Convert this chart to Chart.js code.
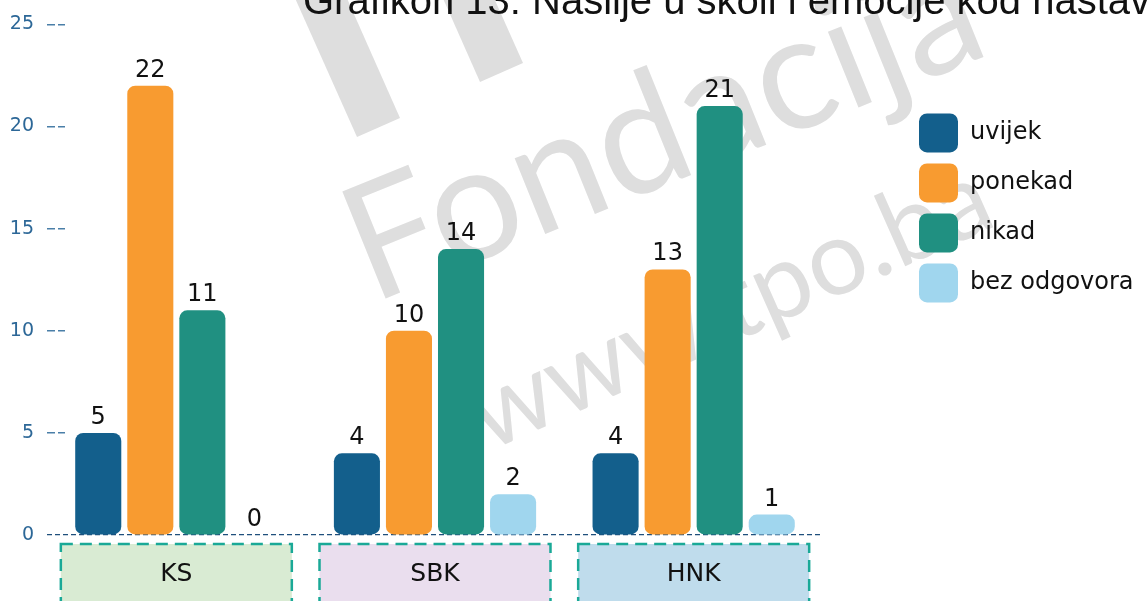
<!DOCTYPE html>
<html>
<head>
<meta charset="utf-8">
<script src="https://cdn.jsdelivr.net/npm/chart.js@4.4.0/dist/chart.umd.min.js"></script>
<style>
  html, body { margin: 0; padding: 0; background: #fff; overflow: hidden; }
  #wrap { position: relative; width: 1148px; height: 601px; }
</style>
</head>
<body>
<div id="wrap"><canvas id="grafikon"></canvas></div>
<script>
const kategorije = ['KS', 'SBK', 'HNK'];
const uvijek = [5, 4, 4];
const ponekad = [22, 10, 13];
const nikad = [11, 14, 21];
const bezOdgovora = [0, 2, 1];
const yTicks = [0, 5, 10, 15, 20, 25];
const naslov = 'Grafikon 13: Nasilje u školi i emocije kod nastavnika';
const boxBoje = ['#d9ebd3', '#eadeee', '#bfdcec'];

const FONT = 'DejaVu Sans';

// watermark (logo + tekst) iza grafikona
const vodeniZig = {
  id: 'vodeniZig',
  beforeDraw(chart) {
    const c = chart.ctx;
    c.save();
    c.fillStyle = '#dedede';
    [[[278, -40], [330, -40], [400, 118], [357, 137]],
     [[426, -40], [477, -40], [523, 63], [480, 82]]].forEach(p => {
      c.beginPath();
      c.moveTo(p[0][0], p[0][1]);
      p.slice(1).forEach(t => c.lineTo(t[0], t[1]));
      c.closePath();
      c.fill();
    });
    const tekst = (t, x, y, ang, w) => {
      c.save();
      c.translate(x, y);
      c.rotate(ang * Math.PI / 180);
      c.font = '100px Lato';
      const s = 100 * w / c.measureText(t).width;
      c.font = s + 'px Lato';
      c.fillText(t, 0, 0);
      c.restore();
    };
    tekst('Fondacija', 372, 304, -22, 670);
    tekst('www.tpo.ba', 488, 452, -24, 560);
    c.restore();
  }
};

// obojene kutije ispod kategorija
const kutije = {
  id: 'kutije',
  beforeDraw(chart) {
    const x = chart.scales.x, c = chart.ctx;
    const w = x.width / kategorije.length * 0.893;
    const top = x.top + 9;
    c.save();
    kategorije.forEach((k, i) => {
      const cx = x.getPixelForValue(i);
      c.fillStyle = boxBoje[i];
      c.fillRect(cx - w / 2, top, w, chart.height - top + 20);
      c.setLineDash([12, 7]);
      c.lineWidth = 2.5;
      c.strokeStyle = '#1aa997';
      c.strokeRect(cx - w / 2, top, w, chart.height - top + 20);
    });
    c.restore();
  }
};

// brojevi iznad stubaca
const oznake = {
  id: 'oznake',
  afterDatasetsDraw(chart) {
    const c = chart.ctx;
    c.save();
    c.font = '24px "' + FONT + '"';
    c.fillStyle = '#111';
    c.textAlign = 'center';
    c.textBaseline = 'alphabetic';
    chart.data.datasets.forEach((ds, i) => {
      chart.getDatasetMeta(i).data.forEach((bar, j) => {
        c.fillText(ds.data[j], bar.x, bar.y - 9);
      });
    });
    c.restore();
  }
};

const naslovPlugin = {
  id: 'naslovPlugin',
  afterDraw(chart) {
    const c = chart.ctx;
    c.save();
    c.font = '40px "Liberation Sans"';
    c.fillStyle = '#111';
    c.textBaseline = 'alphabetic';
    c.fillText(naslov, 303, 14);
    c.restore();
  }
};

// legenda smije biti sira od pola slobodnog prostora
const sirokaLegenda = {
  id: 'sirokaLegenda',
  beforeLayout(chart) {
    const lg = chart.legend;
    if (lg && !lg._sirok) {
      const fit = lg.fit;
      lg.fit = function () {
        this.maxWidth = Math.max(this.maxWidth, 400);
        fit.call(this);
        this.width = Math.max(this.width, 240);
      };
      lg._sirok = true;
    }
  }
};

new Chart(document.getElementById('grafikon'), {
  type: 'bar',
  data: {
    labels: kategorije,
    datasets: [
      { label: 'uvijek', data: uvijek, backgroundColor: '#135f8c' },
      { label: 'ponekad', data: ponekad, backgroundColor: '#f89b30' },
      { label: 'nikad', data: nikad, backgroundColor: '#209081' },
      { label: 'bez odgovora', data: bezOdgovora, backgroundColor: '#a0d6ee' }
    ]
  },
  options: {
    responsive: true,
    maintainAspectRatio: false,
    animation: false,
    layout: { padding: { top: 24, left: 11, right: 0, bottom: 0 } },
    datasets: {
      bar: { categoryPercentage: 0.805, barPercentage: 0.885, borderRadius: 8, borderSkipped: false }
    },
    plugins: {
      legend: {
        position: 'right',
        align: 'start',
        title: { display: true, text: ' ', font: { size: 12 }, padding: { top: 64, bottom: 0 } },
        labels: {
          boxWidth: 39, boxHeight: 39, padding: 11,
          useBorderRadius: true, borderRadius: 8,
          color: '#111', font: { family: FONT, size: 24 }
        }
      },
      tooltip: { enabled: false }
    },
    scales: {
      x: {
        grid: { display: false, drawTicks: false },
        border: { display: false },
        ticks: { color: '#111', font: { family: FONT, size: 25 }, padding: 24 },
        afterFit(s) { s.height = 66; }
      },
      y: {
        min: 0,
        max: yTicks[yTicks.length - 1],
        ticks: { stepSize: yTicks[1] - yTicks[0], color: '#2c6797', font: { family: FONT, size: 19 }, padding: 13 },
        grid: {
          drawTicks: false,
          lineWidth: ctx => (ctx.tick && ctx.tick.value === 0) ? 1.2 : 1.5,
          color: ctx => (ctx.tick && ctx.tick.value === 0) ? '#1f4f7c' : '#4a7fa8'
        },
        border: {
          display: false,
          dash: ctx => !ctx.tick ? [] : (ctx.tick.value === 0 ? [5, 3] : [8, 3, 7, 5000])
        },
        afterFit(s) { s.width = 36; }
      },
      yDesno: {
        type: 'linear',
        position: 'right',
        display: true,
        grid: { display: false, drawTicks: false },
        ticks: { display: false },
        border: { display: false },
        afterFit(s) { s.width = 85; }
      }
    }
  },
  plugins: [sirokaLegenda, vodeniZig, kutije, oznake, naslovPlugin]
});
</script>
</body>
</html>
